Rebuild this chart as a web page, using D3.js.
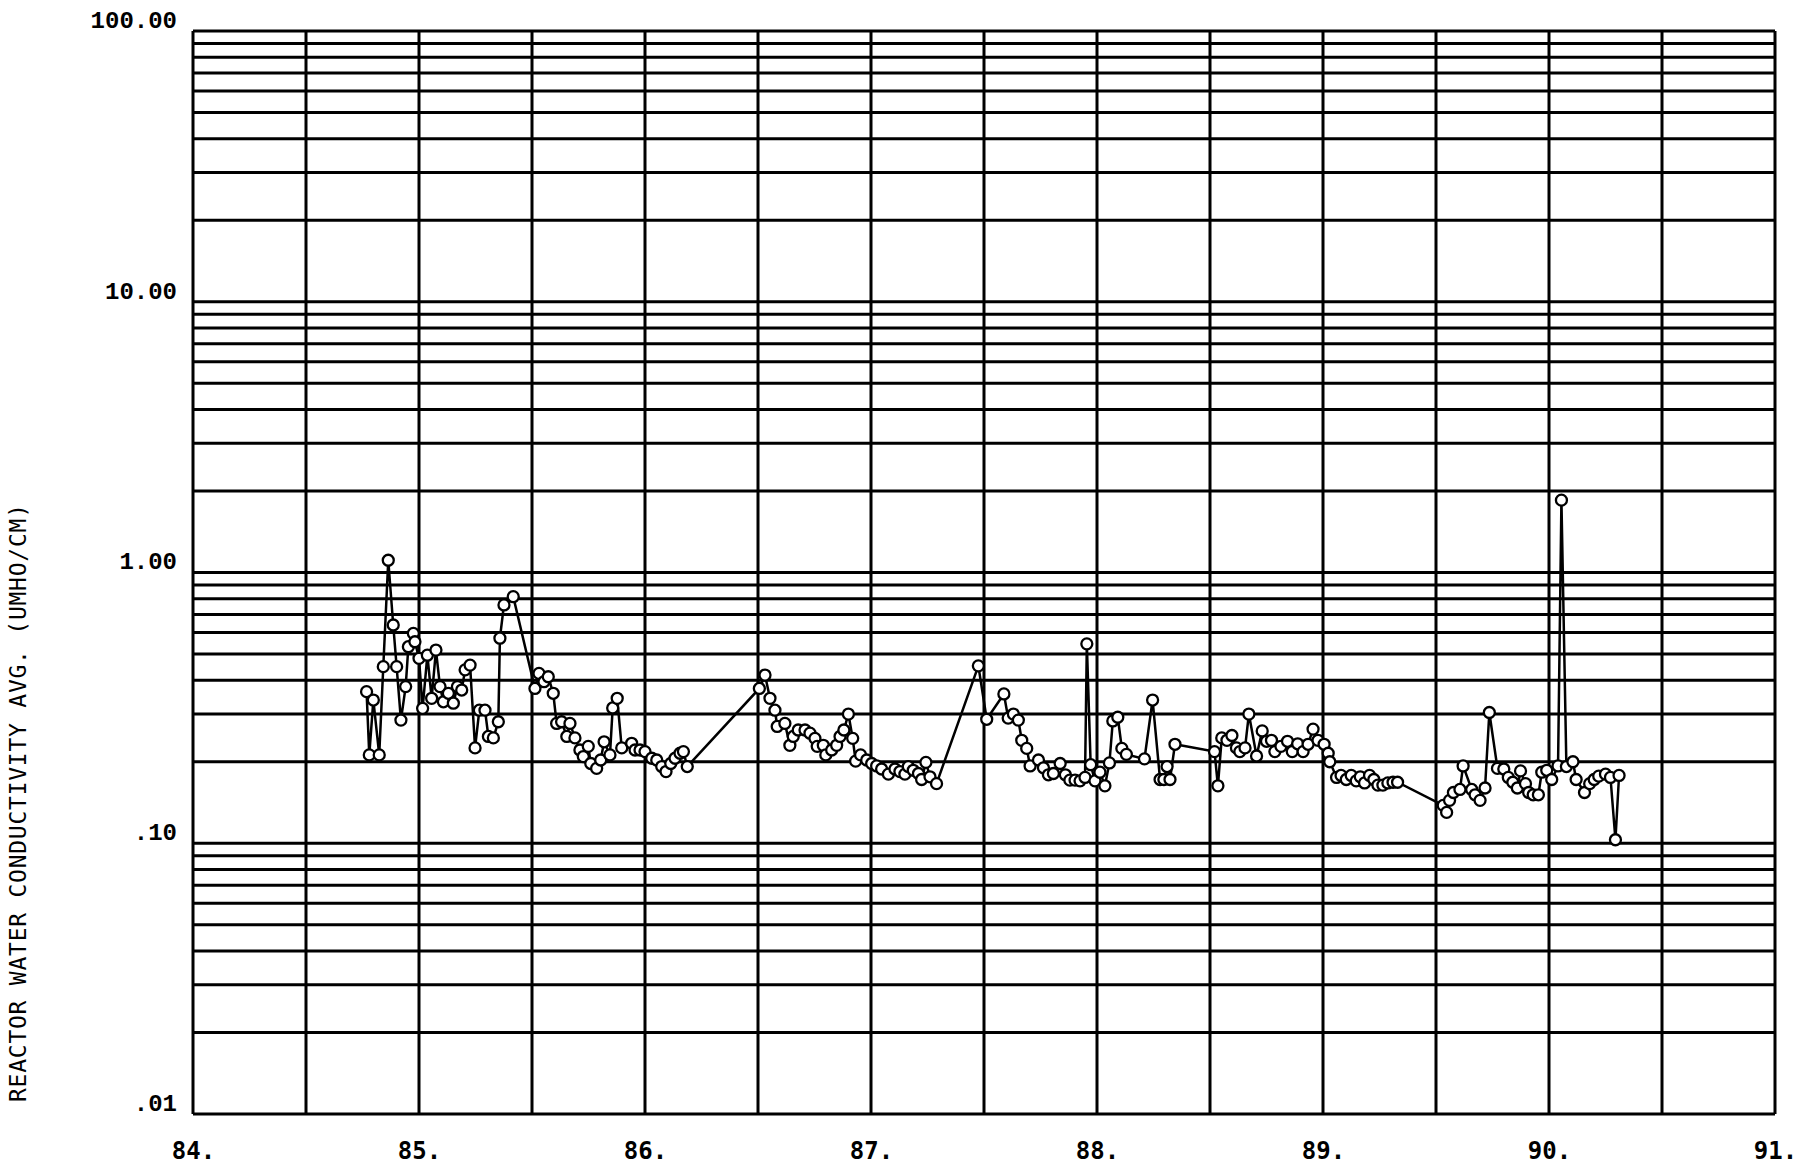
<!DOCTYPE html>
<html lang="en">
<head>
<meta charset="utf-8">
<title>Reactor water conductivity</title>
<script src="https://d3js.org/d3.v7.min.js"></script>
<style>
  body { margin: 0; background: #fff; }
  .grid line { stroke: #000; stroke-width: 3px; }
  .ylab text { font-family: "Liberation Mono", monospace; font-weight: bold; font-size: 24px; }
  .xlab text { font-family: "DejaVu Sans Mono", monospace; font-weight: bold; font-size: 24px; }
  .title { font-family: "DejaVu Sans Mono", monospace; font-size: 23px; }
</style>
</head>
<body>
<svg width="1810" height="1167"></svg>
<script>
// decimal year (84. = 1984) and average conductivity
var years = [84.768,84.780,84.798,84.824,84.842,84.864,84.886,84.901,84.920,84.941,84.953,84.975,84.982,85.000,
  85.016,85.037,85.056,85.075,85.093,85.108,85.130,85.152,85.170,85.189,85.204,85.226,85.248,85.267,85.292,85.307,
  85.329,85.351,85.358,85.376,85.417,85.513,85.531,85.553,85.572,85.594,85.609,85.631,85.654,85.668,85.690,85.712,
  85.727,85.749,85.760,85.786,85.804,85.819,85.845,85.857,85.877,85.897,85.941,85.956,85.978,86.000,86.030,86.052,
  86.074,86.093,86.114,86.133,86.155,86.170,86.187,86.506,86.531,86.553,86.575,86.585,86.619,86.641,86.656,86.678,
  86.708,86.730,86.752,86.762,86.789,86.800,86.826,86.848,86.863,86.880,86.900,86.919,86.932,86.954,86.981,87.003,
  87.025,87.047,87.077,87.106,87.128,87.150,87.165,87.187,87.210,87.224,87.243,87.261,87.290,87.475,87.512,87.588,
  87.607,87.630,87.652,87.667,87.689,87.704,87.741,87.763,87.785,87.807,87.837,87.860,87.880,87.903,87.925,87.947,
  87.955,87.972,87.991,88.013,88.035,88.055,88.070,88.092,88.110,88.130,88.210,88.246,88.279,88.296,88.310,88.323,
  88.345,88.520,88.535,88.552,88.575,88.597,88.617,88.632,88.655,88.672,88.706,88.731,88.750,88.772,88.787,88.814,
  88.843,88.864,88.888,88.912,88.934,88.956,88.978,89.005,89.023,89.030,89.060,89.080,89.103,89.125,89.147,89.165,
  89.184,89.206,89.225,89.243,89.265,89.287,89.310,89.330,89.532,89.547,89.560,89.577,89.606,89.620,89.658,89.673,
  89.695,89.717,89.736,89.772,89.800,89.820,89.840,89.860,89.874,89.896,89.910,89.930,89.953,89.968,89.990,90.012,
  90.040,90.055,90.077,90.106,90.120,90.157,90.180,90.200,90.220,90.250,90.272,90.294,90.310];
var conductivity = [0.363,0.212,0.338,0.212,0.449,1.11,0.64,0.449,0.285,0.379,0.532,0.596,0.555,0.482,
  0.315,0.495,0.343,0.517,0.379,0.333,0.358,0.329,0.379,0.368,0.437,0.455,0.225,0.310,0.310,0.248,
  0.245,0.281,0.572,0.759,0.814,0.373,0.424,0.395,0.412,0.358,0.277,0.281,0.248,0.277,0.245,0.221,
  0.209,0.228,0.197,0.189,0.203,0.237,0.212,0.316,0.343,0.225,0.234,0.221,0.221,0.218,0.206,0.203,
  0.192,0.184,0.197,0.206,0.215,0.218,0.192,0.373,0.418,0.343,0.310,0.270,0.277,0.230,0.248,0.262,
  0.262,0.255,0.244,0.228,0.230,0.212,0.221,0.230,0.248,0.262,0.300,0.244,0.201,0.212,0.203,0.197,
  0.193,0.188,0.180,0.188,0.184,0.180,0.192,0.186,0.181,0.172,0.199,0.176,0.166,0.452,0.287,0.356,
  0.290,0.300,0.285,0.240,0.224,0.193,0.203,0.190,0.179,0.181,0.197,0.179,0.171,0.171,0.170,0.175,
  0.545,0.195,0.170,0.183,0.163,0.198,0.283,0.292,0.224,0.213,0.205,0.338,0.172,0.172,0.192,0.172,
  0.232,0.218,0.163,0.245,0.240,0.250,0.225,0.218,0.225,0.300,0.210,0.260,0.238,0.240,0.218,0.228,
  0.238,0.218,0.233,0.218,0.232,0.264,0.240,0.232,0.215,0.200,0.175,0.178,0.172,0.178,0.170,0.176,
  0.167,0.178,0.172,0.164,0.164,0.167,0.168,0.168,0.138,0.130,0.144,0.154,0.158,0.193,0.158,0.151,
  0.144,0.160,0.304,0.189,0.188,0.175,0.168,0.160,0.185,0.166,0.154,0.151,0.151,0.183,0.186,0.172,
  0.193,1.85,0.192,0.200,0.172,0.154,0.166,0.172,0.177,0.180,0.175,0.103,0.178];

var xTicks = [84, 85, 86, 87, 88, 89, 90, 91];
var yTicks = [0.01, 0.1, 1, 10, 100];
var yTickLabels = [".01", ".10", "1.00", "10.00", "100.00"];
var yTitle = "REACTOR WATER CONDUCTIVITY AVG. (UMHO/CM)";

var svg = d3.select("svg");
var plotLeft = 193, plotRight = 1775, plotTop = 31, plotBottom = 1114;

var x = d3.scaleLinear().domain([84, 91]).range([plotLeft, plotRight]);
var y = d3.scaleLog().domain([0.01, 100]).range([plotBottom, plotTop]);

// grid: half-year verticals, 1..9 per decade horizontals
var vLines = d3.range(84, 91.01, 0.5);
var hLines = [];
[0.01, 0.1, 1, 10].forEach(function(d) {
  for (var k = 1; k <= 9; k++) hLines.push(d * k);
});
hLines.push(100);

var grid = svg.append("g").attr("class", "grid");
grid.selectAll(".v").data(vLines).enter().append("line")
  .attr("x1", d => x(d)).attr("x2", d => x(d))
  .attr("y1", plotTop).attr("y2", plotBottom);
grid.selectAll(".h").data(hLines).enter().append("line")
  .attr("x1", plotLeft).attr("x2", plotRight)
  .attr("y1", d => y(d)).attr("y2", d => y(d));

// y labels sit just above their line
var yAxis = d3.axisLeft(y).tickValues(yTicks)
  .tickFormat((d, i) => yTickLabels[i]).tickSize(0).tickPadding(14);
svg.append("g").attr("class", "ylab")
  .attr("transform", "translate(" + (plotLeft - 2) + ",0)")
  .call(yAxis)
  .call(g => g.select(".domain").remove())
  .selectAll("text").attr("dy", "-0.15em").attr("fill", "#000");

var xAxis = d3.axisBottom(x).tickValues(xTicks)
  .tickFormat(d => d + ".").tickSize(0).tickPadding(28);
svg.append("g").attr("class", "xlab")
  .attr("transform", "translate(0," + plotBottom + ")")
  .call(xAxis)
  .call(g => g.select(".domain").remove())
  .selectAll("text").attr("fill", "#000");

svg.append("text").attr("class", "title")
  .attr("transform", "translate(26,803) rotate(-90)")
  .attr("text-anchor", "middle")
  .attr("textLength", 598)
  .text(yTitle);

var pts = years.map((d, i) => [d, conductivity[i]]);

svg.append("path")
  .datum(pts)
  .attr("fill", "none")
  .attr("stroke", "#000")
  .attr("stroke-width", 2.5)
  .attr("d", d3.line().x(d => x(d[0])).y(d => y(d[1])));

svg.append("g").selectAll("circle").data(pts).enter().append("circle")
  .attr("cx", d => x(d[0]))
  .attr("cy", d => y(d[1]))
  .attr("r", 5.5)
  .attr("fill", "#fff")
  .attr("stroke", "#000")
  .attr("stroke-width", 2.3);
</script>
</body>
</html>
